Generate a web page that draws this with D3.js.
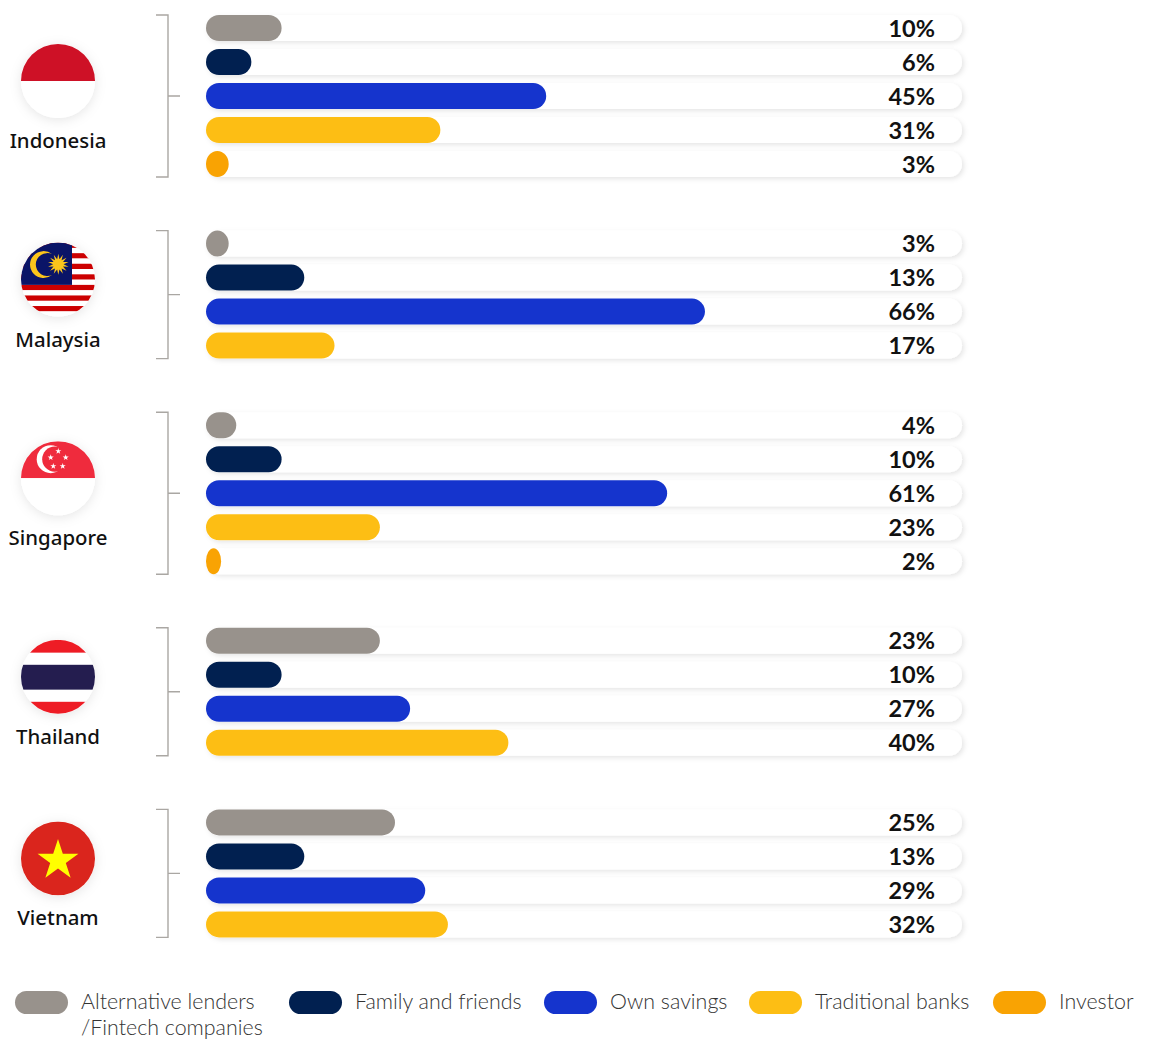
<!DOCTYPE html>
<html>
<head>
<meta charset="utf-8">
<script src="https://cdn.jsdelivr.net/npm/d3@7"></script>
<style>
html,body{margin:0;padding:0;background:#fff;}
svg{display:block;}
.country{font-family:"Noto Sans",sans-serif;font-size:20.4px;font-weight:500;fill:#111;text-anchor:middle;}
.value{font-family:"Lato",sans-serif;font-size:23.5px;font-weight:700;fill:#111;text-anchor:end;}
.legend{font-family:"Lato",sans-serif;font-size:21.4px;font-weight:300;fill:#333;}
</style>
</head>
<body>
<div id="chart"></div>
<script>
// Funding sources by country, shares in percent
const countries = ["Indonesia", "Malaysia", "Singapore", "Thailand", "Vietnam"];
const sources = ["Alternative lenders", "Family and friends", "Own savings", "Traditional banks", "Investor"];
const indonesia = [10, 6, 45, 31, 3];
const malaysia = [3, 13, 66, 17];
const singapore = [4, 10, 61, 23, 2];
const thailand = [23, 10, 27, 40];
const vietnam = [25, 13, 29, 32];
const seriesByCountry = [indonesia, malaysia, singapore, thailand, vietnam];
const sourceColors = ["#98928c", "#012050", "#1534cd", "#fdbe14", "#f9a303"];
const legendLabels = [["Alternative lenders", "/Fintech companies"], ["Family and friends"], ["Own savings"], ["Traditional banks"], ["Investor"]];

const W = 1149, H = 1039;
const barH = 26, rowStep = 34, groupGap = 45.6, firstTop = 15;
const flagR = 37, flagX = 58;

const svg = d3.select("#chart").append("svg").attr("width", W).attr("height", H);
const defs = svg.append("defs");

const soft = defs.append("filter").attr("id", "soft")
  .attr("x", "-5%").attr("y", "-40%").attr("width", "110%").attr("height", "200%");
soft.append("feDropShadow").attr("dx", 2).attr("dy", 2).attr("stdDeviation", 2.5)
  .attr("flood-color", "#000").attr("flood-opacity", 0.1);
const flagShadow = defs.append("filter").attr("id", "flagShadow")
  .attr("x", "-40%").attr("y", "-40%").attr("width", "180%").attr("height", "180%");
flagShadow.append("feDropShadow").attr("dx", 0).attr("dy", 2).attr("stdDeviation", 6)
  .attr("flood-color", "#000").attr("flood-opacity", 0.1);

// Share (0-100) to pixel position; the track spans the whole domain
const x = d3.scaleLinear().domain([0, 100]).range([206, 962]);
const fmt = d => d + "%";

// Vertical layout: rows stack per country, separated by a fixed gap
let cursor = firstTop;
const groups = seriesByCountry.map((vals, i) => {
  const top = cursor;
  const bottom = top + (vals.length - 1) * rowStep + barH;
  cursor = top + vals.length * rowStep + groupGap;
  return { name: countries[i], vals, top, bottom, mid: (top + bottom) / 2 };
});

const g = svg.selectAll("g.group").data(groups).join("g").attr("class", "group");

// Bracket tying each country's rows together
g.append("path")
  .attr("d", d => `M156,${d.top}H168V${d.bottom}H156M168,${d.mid}H180`)
  .attr("fill", "none").attr("stroke", "#aaa7a3").attr("stroke-width", 1.4);

const rows = g.selectAll("g.row")
  .data(d => d.vals.map((v, i) => ({ v, i, y: d.top + i * rowStep })))
  .join("g").attr("class", "row");

rows.append("rect").attr("class", "track")
  .attr("x", x(0)).attr("y", d => d.y)
  .attr("width", x(100) - x(0)).attr("height", barH)
  .attr("rx", barH / 2).attr("fill", "#fff").attr("filter", "url(#soft)");

rows.append("rect").attr("class", "bar")
  .attr("x", x(0)).attr("y", d => d.y)
  .attr("width", d => x(d.v) - x(0)).attr("height", barH)
  .attr("rx", barH / 2).attr("fill", d => sourceColors[d.i]);

rows.append("text").attr("class", "value")
  .attr("x", 935).attr("y", d => d.y + barH / 2 + 8.5)
  .text(d => fmt(d.v));

// Star polygon centred on (cx, cy)
function star(cx, cy, R, n = 5, ratio = 0.382) {
  const pts = d3.range(n * 2).map(k => {
    const a = -Math.PI / 2 + k * Math.PI / n;
    const r = k % 2 ? R * ratio : R;
    return [cx + r * Math.cos(a), cy + r * Math.sin(a)];
  });
  return "M" + pts.map(p => p.join(",")).join("L") + "Z";
}

// Flag artwork, drawn in a frame centred on the disc
const flagArt = {
  Indonesia(f) {
    f.append("rect").attr("x", -flagR).attr("y", -flagR).attr("width", 2 * flagR).attr("height", flagR).attr("fill", "#ce1126");
    f.append("rect").attr("x", -flagR).attr("y", 0).attr("width", 2 * flagR).attr("height", flagR).attr("fill", "#fff");
  },
  Malaysia(f) {
    const s = 2 * flagR / 14;
    d3.range(14).forEach(k => f.append("rect").attr("x", -flagR).attr("y", -flagR + k * s)
      .attr("width", 2 * flagR).attr("height", s + 0.2).attr("fill", k % 2 ? "#fff" : "#cc0001"));
    f.append("rect").attr("x", -flagR).attr("y", -flagR).attr("width", flagR + 14).attr("height", 8 * s).attr("fill", "#0a1467");
    f.append("path").attr("fill", "#fcc51b")
      .attr("d", "M-6,-25.5A13.5,13.5 0 1 0 -6,-4.5A11.5,11.5 0 1 1 -6,-25.5Z");
    f.append("path").attr("d", star(0.3, -15.3, 10.5, 14, 0.5)).attr("fill", "#fcc51b");
  },
  Singapore(f) {
    f.append("rect").attr("x", -flagR).attr("y", -flagR).attr("width", 2 * flagR).attr("height", flagR).attr("fill", "#ef2b3d");
    f.append("rect").attr("x", -flagR).attr("y", 0).attr("width", 2 * flagR).attr("height", flagR).attr("fill", "#fff");
    f.append("circle").attr("cx", -7.3).attr("cy", -19).attr("r", 14).attr("fill", "#fff");
    f.append("circle").attr("cx", -3.2).attr("cy", -19).attr("r", 12.6).attr("fill", "#ef2b3d");
    [[0.3, -27], [7.7, -20.7], [4.7, -12], [-4.7, -12], [-7.3, -20.7]].forEach(p =>
      f.append("path").attr("d", star(p[0], p[1], 3.2)).attr("fill", "#fff"));
  },
  Thailand(f) {
    const s = [[-37, 13, "#ee1c25"], [-24, 13, "#fff"], [-12, 25, "#241d4f"], [13, 12.5, "#fff"], [25, 13, "#ee1c25"]];
    s.forEach(b => f.append("rect").attr("x", -flagR).attr("y", b[0]).attr("width", 2 * flagR).attr("height", b[1]).attr("fill", b[2]));
  },
  Vietnam(f) {
    f.append("rect").attr("x", -flagR).attr("y", -flagR).attr("width", 2 * flagR).attr("height", 2 * flagR).attr("fill", "#da251d");
    f.append("path").attr("d", star(0, 2, 21.5)).attr("fill", "#ffff00");
  }
};

// Discs sit a little above the middle of each country's row block
const flagLift = 15;
defs.append("clipPath").attr("id", "disc").append("circle").attr("r", flagR);

groups.forEach(d => {
  const cy = d.mid - flagLift;
  svg.append("circle").attr("cx", flagX).attr("cy", cy).attr("r", flagR)
    .attr("fill", "#fff").attr("filter", "url(#flagShadow)");
  const f = svg.append("g").attr("transform", `translate(${flagX},${cy})`).attr("clip-path", "url(#disc)");
  flagArt[d.name](f);
  svg.append("text").attr("class", "country").attr("x", flagX).attr("y", cy + 67).text(d.name);
});

// Legend along the foot of the chart
const legendX = [15, 289, 544, 749, 993];
const legend = svg.selectAll("g.lg").data(legendLabels).join("g").attr("class", "lg")
  .attr("transform", (d, i) => `translate(${legendX[i]},991)`);
legend.append("rect").attr("width", 53).attr("height", 23).attr("rx", 11.5)
  .attr("fill", (d, i) => sourceColors[i]);
legend.each(function (lines) {
  const sel = d3.select(this);
  lines.forEach((t, k) => sel.append("text").attr("class", "legend")
    .attr("x", 66).attr("y", 17.5 + k * 26).text(t));
});
</script>
</body>
</html>
